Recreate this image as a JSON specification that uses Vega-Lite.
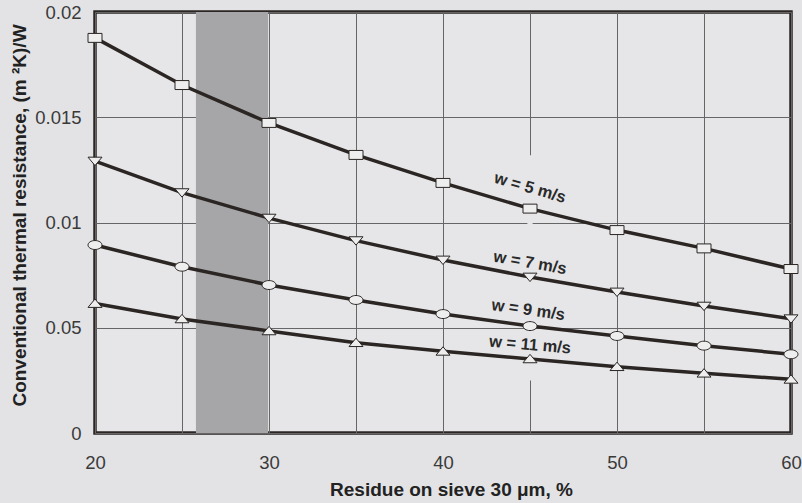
{
  "$schema": "https://vega.github.io/schema/vega-lite/v6.json",
  "width": 696,
  "height": 421,
  "autosize": "none",
  "padding": {"left": 95, "top": 12, "right": 11, "bottom": 70},
  "background": "#e3e3e5",
  "config": {
    "view": {"stroke": "#2b2624", "strokeWidth": 3.5, "fill": "#e6e6e8"},
    "font": "Liberation Sans",
    "axis": {
      "gridColor": "#666666",
      "gridWidth": 1,
      "gridOpacity": 1,
      "ticks": false,
      "domain": false,
      "labelFont": "Liberation Sans",
      "labelFontSize": 18.5,
      "labelColor": "#3a3a3a",
      "titleFont": "Liberation Sans",
      "titleFontSize": 19,
      "titleFontWeight": "bold",
      "titleColor": "#222222"
    }
  },
  "datasets": {
    "series": [
      {"w": "5", "x": 20, "r": 0.01877}, {"w": "5", "x": 25, "r": 0.01653}, {"w": "5", "x": 30, "r": 0.01473},
      {"w": "5", "x": 35, "r": 0.01321}, {"w": "5", "x": 40, "r": 0.01188}, {"w": "5", "x": 45, "r": 0.01066},
      {"w": "5", "x": 50, "r": 0.00964}, {"w": "5", "x": 55, "r": 0.00877}, {"w": "5", "x": 60, "r": 0.00779},
      {"w": "7", "x": 20, "r": 0.01292}, {"w": "7", "x": 25, "r": 0.01142}, {"w": "7", "x": 30, "r": 0.01021},
      {"w": "7", "x": 35, "r": 0.00914}, {"w": "7", "x": 40, "r": 0.00822}, {"w": "7", "x": 45, "r": 0.00741},
      {"w": "7", "x": 50, "r": 0.00670}, {"w": "7", "x": 55, "r": 0.00603}, {"w": "7", "x": 60, "r": 0.00543},
      {"w": "9", "x": 20, "r": 0.00893}, {"w": "9", "x": 25, "r": 0.00790}, {"w": "9", "x": 30, "r": 0.00703},
      {"w": "9", "x": 35, "r": 0.00632}, {"w": "9", "x": 40, "r": 0.00565}, {"w": "9", "x": 45, "r": 0.00508},
      {"w": "9", "x": 50, "r": 0.00461}, {"w": "9", "x": 55, "r": 0.00415}, {"w": "9", "x": 60, "r": 0.00374},
      {"w": "11", "x": 20, "r": 0.00615}, {"w": "11", "x": 25, "r": 0.00542}, {"w": "11", "x": 30, "r": 0.00485},
      {"w": "11", "x": 35, "r": 0.00429}, {"w": "11", "x": 40, "r": 0.00388}, {"w": "11", "x": 45, "r": 0.00352},
      {"w": "11", "x": 50, "r": 0.00315}, {"w": "11", "x": 55, "r": 0.00284}, {"w": "11", "x": 60, "r": 0.00255}
    ],
    "labels": [
      {"w": "5", "text": "w = 5 m/s", "x": 45, "r": 0.01164},
      {"w": "7", "text": "w = 7 m/s", "x": 45, "r": 0.00808},
      {"w": "9", "text": "w = 9 m/s", "x": 44.9, "r": 0.00584},
      {"w": "11", "text": "w = 11 m/s", "x": 45, "r": 0.00418}
    ]
  },
  "layer": [
    {
      "data": {"values": [{"x1": 25.8, "x2": 29.95, "y1": 0, "y2": 0.02}]},
      "mark": {"type": "rect", "color": "#a6a6a8"},
      "encoding": {
        "x": {"field": "x1", "type": "quantitative", "scale": {"domain": [20, 60], "nice": false},
          "axis": {"values": [20, 25, 30, 35, 40, 45, 50, 55, 60], "labelExpr": "datum.value % 10 == 0 ? datum.label : ''", "labelPadding": 20, "title": "Residue on sieve 30 μm, %", "titlePadding": 9, "titleX": 356, "labelFlush": false}},
        "x2": {"field": "x2"},
        "y": {"field": "y1", "type": "quantitative", "scale": {"domain": [0, 0.02], "nice": false},
          "axis": {"values": [0, 0.005, 0.01, 0.015, 0.02], "labelExpr": "datum.value == 0.005 ? '0.05' : format(datum.value, '~g')", "labelPadding": 14, "title": "Conventional thermal resistance, (m ²K)/W", "titlePadding": 5, "titleY": 203, "labelFlush": false}},
        "y2": {"field": "y2"}
      }
    },
    {
      "data": {"values": [{"x1": 44.85, "x2": 45.15, "y1": 0.0025, "y2": 0.0132}]},
      "mark": {"type": "rect", "color": "#e6e6e8"},
      "encoding": {
        "x": {"field": "x1", "type": "quantitative"},
        "x2": {"field": "x2"},
        "y": {"field": "y1", "type": "quantitative"},
        "y2": {"field": "y2"}
      }
    },
    {
      "data": {"name": "series"},
      "mark": {"type": "line", "color": "#2b2624", "strokeWidth": 3.5},
      "encoding": {
        "x": {"field": "x", "type": "quantitative"},
        "y": {"field": "r", "type": "quantitative"},
        "detail": {"field": "w"}
      }
    },
    {
      "data": {"name": "series"},
      "mark": {"type": "point", "filled": true, "fill": "#eeeeee", "stroke": "#2b2624", "strokeWidth": 1, "size": 196, "opacity": 1},
      "encoding": {
        "x": {"field": "x", "type": "quantitative"},
        "y": {"field": "r", "type": "quantitative"},
        "shape": {"field": "w", "type": "nominal", "legend": null,
          "scale": {"domain": ["5", "7", "9", "11"], "range": [
            "M-1,-0.64L1,-0.64L1,0.64L-1,0.64Z",
            "M-1,-0.55L1,-0.55L0,0.65Z",
            "M1,0C1,0.35 0.55,0.64 0,0.64C-0.55,0.64 -1,0.35 -1,0C-1,-0.35 -0.55,-0.64 0,-0.64C0.55,-0.64 1,-0.35 1,0Z",
            "M0,-0.65L1,0.55L-1,0.55Z"
          ]}}
      }
    },
    {
      "data": {"name": "labels"},
      "transform": [{"filter": "datum.w == '5'"}],
      "mark": {"type": "text", "angle": 16, "font": "Liberation Sans", "fontWeight": "bold", "fontSize": 16.5, "color": "#2a2a2a"},
      "encoding": {"x": {"field": "x", "type": "quantitative"}, "y": {"field": "r", "type": "quantitative"}, "text": {"field": "text"}}
    },
    {
      "data": {"name": "labels"},
      "transform": [{"filter": "datum.w == '7'"}],
      "mark": {"type": "text", "angle": 10, "font": "Liberation Sans", "fontWeight": "bold", "fontSize": 16.5, "color": "#2a2a2a"},
      "encoding": {"x": {"field": "x", "type": "quantitative"}, "y": {"field": "r", "type": "quantitative"}, "text": {"field": "text"}}
    },
    {
      "data": {"name": "labels"},
      "transform": [{"filter": "datum.w == '9'"}],
      "mark": {"type": "text", "angle": 8, "font": "Liberation Sans", "fontWeight": "bold", "fontSize": 16.5, "color": "#2a2a2a"},
      "encoding": {"x": {"field": "x", "type": "quantitative"}, "y": {"field": "r", "type": "quantitative"}, "text": {"field": "text"}}
    },
    {
      "data": {"name": "labels"},
      "transform": [{"filter": "datum.w == '11'"}],
      "mark": {"type": "text", "angle": 5, "font": "Liberation Sans", "fontWeight": "bold", "fontSize": 16.5, "color": "#2a2a2a"},
      "encoding": {"x": {"field": "x", "type": "quantitative"}, "y": {"field": "r", "type": "quantitative"}, "text": {"field": "text"}}
    }
  ]
}
